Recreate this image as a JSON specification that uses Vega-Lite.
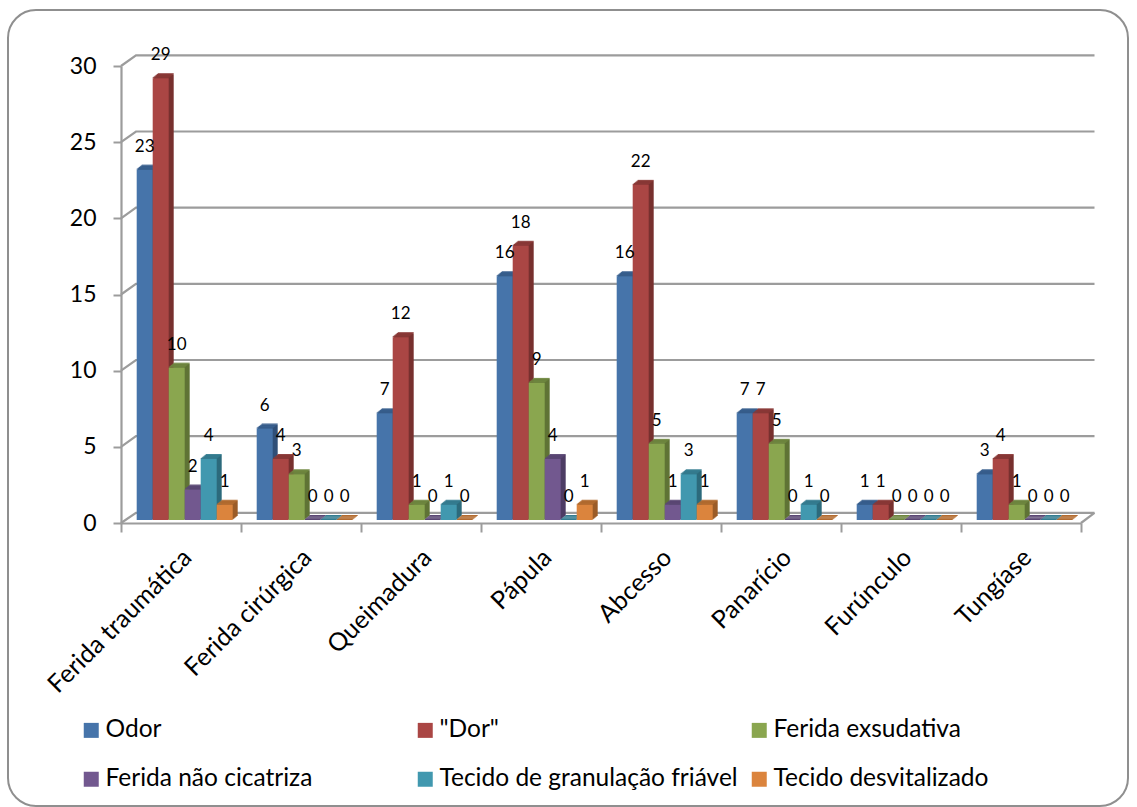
{
  "$schema": "https://vega.github.io/schema/vega-lite/v6.json",
  "width": 1120,
  "height": 796,
  "padding": {"left": 8, "top": 10, "right": 9, "bottom": 1},
  "autosize": {"type": "none"},
  "background": "white",
  "view": {"stroke": "#8f8f8f", "strokeWidth": 2, "cornerRadius": 28, "fill": "white"},
  "config": {"font": "Lato"},
  "datasets": {
    "casos": [
      {"lesao": "Ferida traumática", "serie": "Odor", "n": 23},
      {"lesao": "Ferida traumática", "serie": "\"Dor\"", "n": 29},
      {"lesao": "Ferida traumática", "serie": "Ferida exsudativa", "n": 10},
      {"lesao": "Ferida traumática", "serie": "Ferida não cicatriza", "n": 2},
      {"lesao": "Ferida traumática", "serie": "Tecido de granulação friável", "n": 4},
      {"lesao": "Ferida traumática", "serie": "Tecido desvitalizado", "n": 1},
      {"lesao": "Ferida cirúrgica", "serie": "Odor", "n": 6},
      {"lesao": "Ferida cirúrgica", "serie": "\"Dor\"", "n": 4},
      {"lesao": "Ferida cirúrgica", "serie": "Ferida exsudativa", "n": 3},
      {"lesao": "Ferida cirúrgica", "serie": "Ferida não cicatriza", "n": 0},
      {"lesao": "Ferida cirúrgica", "serie": "Tecido de granulação friável", "n": 0},
      {"lesao": "Ferida cirúrgica", "serie": "Tecido desvitalizado", "n": 0},
      {"lesao": "Queimadura", "serie": "Odor", "n": 7},
      {"lesao": "Queimadura", "serie": "\"Dor\"", "n": 12},
      {"lesao": "Queimadura", "serie": "Ferida exsudativa", "n": 1},
      {"lesao": "Queimadura", "serie": "Ferida não cicatriza", "n": 0},
      {"lesao": "Queimadura", "serie": "Tecido de granulação friável", "n": 1},
      {"lesao": "Queimadura", "serie": "Tecido desvitalizado", "n": 0},
      {"lesao": "Pápula", "serie": "Odor", "n": 16},
      {"lesao": "Pápula", "serie": "\"Dor\"", "n": 18},
      {"lesao": "Pápula", "serie": "Ferida exsudativa", "n": 9},
      {"lesao": "Pápula", "serie": "Ferida não cicatriza", "n": 4},
      {"lesao": "Pápula", "serie": "Tecido de granulação friável", "n": 0},
      {"lesao": "Pápula", "serie": "Tecido desvitalizado", "n": 1},
      {"lesao": "Abcesso", "serie": "Odor", "n": 16},
      {"lesao": "Abcesso", "serie": "\"Dor\"", "n": 22},
      {"lesao": "Abcesso", "serie": "Ferida exsudativa", "n": 5},
      {"lesao": "Abcesso", "serie": "Ferida não cicatriza", "n": 1},
      {"lesao": "Abcesso", "serie": "Tecido de granulação friável", "n": 3},
      {"lesao": "Abcesso", "serie": "Tecido desvitalizado", "n": 1},
      {"lesao": "Panarício", "serie": "Odor", "n": 7},
      {"lesao": "Panarício", "serie": "\"Dor\"", "n": 7},
      {"lesao": "Panarício", "serie": "Ferida exsudativa", "n": 5},
      {"lesao": "Panarício", "serie": "Ferida não cicatriza", "n": 0},
      {"lesao": "Panarício", "serie": "Tecido de granulação friável", "n": 1},
      {"lesao": "Panarício", "serie": "Tecido desvitalizado", "n": 0},
      {"lesao": "Furúnculo", "serie": "Odor", "n": 1},
      {"lesao": "Furúnculo", "serie": "\"Dor\"", "n": 1},
      {"lesao": "Furúnculo", "serie": "Ferida exsudativa", "n": 0},
      {"lesao": "Furúnculo", "serie": "Ferida não cicatriza", "n": 0},
      {"lesao": "Furúnculo", "serie": "Tecido de granulação friável", "n": 0},
      {"lesao": "Furúnculo", "serie": "Tecido desvitalizado", "n": 0},
      {"lesao": "Tungíase", "serie": "Odor", "n": 3},
      {"lesao": "Tungíase", "serie": "\"Dor\"", "n": 4},
      {"lesao": "Tungíase", "serie": "Ferida exsudativa", "n": 1},
      {"lesao": "Tungíase", "serie": "Ferida não cicatriza", "n": 0},
      {"lesao": "Tungíase", "serie": "Tecido de granulação friável", "n": 0},
      {"lesao": "Tungíase", "serie": "Tecido desvitalizado", "n": 0}
    ],
    "parede": [
      {"linha": 0, "prof": 0, "nivel": 0}, {"linha": 0, "prof": 1, "nivel": 0.67}, {"linha": 0, "prof": 64.9, "nivel": 0.67},
      {"linha": 5, "prof": 0, "nivel": 5}, {"linha": 5, "prof": 1, "nivel": 5.7}, {"linha": 5, "prof": 64.9, "nivel": 5.7},
      {"linha": 10, "prof": 0, "nivel": 10}, {"linha": 10, "prof": 1, "nivel": 10.7}, {"linha": 10, "prof": 64.9, "nivel": 10.7},
      {"linha": 15, "prof": 0, "nivel": 15}, {"linha": 15, "prof": 1, "nivel": 15.7}, {"linha": 15, "prof": 64.9, "nivel": 15.7},
      {"linha": 20, "prof": 0, "nivel": 20}, {"linha": 20, "prof": 1, "nivel": 20.7}, {"linha": 20, "prof": 64.9, "nivel": 20.7},
      {"linha": 25, "prof": 0, "nivel": 25}, {"linha": 25, "prof": 1, "nivel": 25.7}, {"linha": 25, "prof": 64.9, "nivel": 25.7},
      {"linha": 30, "prof": 0, "nivel": 30}, {"linha": 30, "prof": 1, "nivel": 30.7}, {"linha": 30, "prof": 64.9, "nivel": 30.7},
      {"linha": -1, "prof": 64, "nivel": 0}, {"linha": -1, "prof": 64.9, "nivel": 0.67}
    ]
  },
  "resolve": {"scale": {"x": "independent"}, "axis": {"x": "independent", "y": "independent"}},
  "layer": [
    {
      "data": {"name": "parede"},
      "mark": {"type": "line", "stroke": "#9c9c9c", "strokeWidth": 2.2},
      "encoding": {
        "x": {"field": "prof", "type": "quantitative", "axis": null, "scale": {"domain": [0, 65], "range": [113, 1088], "nice": false, "zero": false}},
        "y": {
          "field": "nivel", "type": "quantitative",
          "scale": {"domain": [0, 30], "range": [513, 56], "nice": false},
          "axis": {
            "title": null, "offset": -113, "values": [0, 5, 10, 15, 20, 25, 30], "grid": false,
            "labelFontSize": 23, "labelFont": "Lato", "labelColor": "#000000", "labelPadding": 17,
            "domainColor": "#9c9c9c", "domainWidth": 2.2, "tickColor": "#9c9c9c", "tickWidth": 2, "tickSize": 8
          }
        },
        "detail": {"field": "linha"},
        "order": {"field": "prof"}
      }
    },
    {
      "data": {"name": "casos"},
      "encoding": {
        "x": {
          "field": "lesao", "type": "nominal", "sort": null,
          "scale": {"range": [113, 1073], "paddingInner": 0, "paddingOuter": 0},
          "axis": {
            "title": null, "offset": -283, "labelAngle": -45, "labelAlign": "right", "labelBaseline": "middle",
            "labelFontSize": 25, "labelFont": "Lato", "labelColor": "#000000", "labelPadding": 21, "labelOffset": 6, "labelLimit": 300,
            "domainColor": "#9c9c9c", "domainWidth": 2.2, "tickColor": "#9c9c9c", "tickWidth": 2, "tickSize": 9, "tickBand": "extent", "grid": false
          }
        },
        "y": {"field": "n", "type": "quantitative", "axis": null}
      },
      "resolve": {"scale": {"color": "independent", "xOffset": "independent"}},
      "layer": [
        {
          "encoding": {
            "color": {
              "field": "serie", "type": "nominal", "legend": null,
              "scale": {
                "domain": ["Odor", "\"Dor\"", "Ferida exsudativa", "Ferida não cicatriza", "Tecido de granulação friável", "Tecido desvitalizado"],
                "range": ["#2f4f78", "#77302e", "#5f7335", "#4d3c64", "#2c6a7c", "#9b5c28"]
              }
            }
          },
          "resolve": {"scale": {"xOffset": "independent"}},
          "layer": [
            {"mark": {"type": "bar", "yOffset": -3.8, "y2Offset": -3.8}, "encoding": {"xOffset": {"field": "serie", "type": "nominal", "sort": null, "scale": {"range": [4.7, 124.7], "paddingInner": 0, "paddingOuter": 0.75}}}},
            {"mark": {"type": "bar", "yOffset": -4.6, "y2Offset": -4.6}, "encoding": {"xOffset": {"field": "serie", "type": "nominal", "sort": null, "scale": {"range": [5.7, 125.7], "paddingInner": 0, "paddingOuter": 0.75}}}},
            {"mark": {"type": "bar", "yOffset": -5.4, "y2Offset": -5.4}, "encoding": {"xOffset": {"field": "serie", "type": "nominal", "sort": null, "scale": {"range": [6.7, 126.7], "paddingInner": 0, "paddingOuter": 0.75}}}},
            {"mark": {"type": "bar", "yOffset": -6.2, "y2Offset": -6.2}, "encoding": {"xOffset": {"field": "serie", "type": "nominal", "sort": null, "scale": {"range": [7.7, 127.7], "paddingInner": 0, "paddingOuter": 0.75}}}},
            {"mark": {"type": "bar", "yOffset": -7, "y2Offset": -7}, "encoding": {"xOffset": {"field": "serie", "type": "nominal", "sort": null, "scale": {"range": [8.7, 128.7], "paddingInner": 0, "paddingOuter": 0.75}}}}
          ]
        },
        {
          "encoding": {
            "y2": {"field": "n"},
            "color": {
              "field": "serie", "type": "nominal", "legend": null,
              "scale": {
                "domain": ["Odor", "\"Dor\"", "Ferida exsudativa", "Ferida não cicatriza", "Tecido de granulação friável", "Tecido desvitalizado"],
                "range": ["#385f8e", "#8a3937", "#6f8740", "#5b4875", "#357d91", "#b36c30"]
              }
            }
          },
          "resolve": {"scale": {"xOffset": "independent"}},
          "layer": [
            {"mark": {"type": "bar", "yOffset": -4, "y2Offset": -3}, "encoding": {"xOffset": {"field": "serie", "type": "nominal", "sort": null, "scale": {"range": [3.7, 123.7], "paddingInner": 0, "paddingOuter": 0.75}}}},
            {"mark": {"type": "bar", "yOffset": -4.8, "y2Offset": -3.8}, "encoding": {"xOffset": {"field": "serie", "type": "nominal", "sort": null, "scale": {"range": [4.7, 124.7], "paddingInner": 0, "paddingOuter": 0.75}}}},
            {"mark": {"type": "bar", "yOffset": -5.6, "y2Offset": -4.6}, "encoding": {"xOffset": {"field": "serie", "type": "nominal", "sort": null, "scale": {"range": [5.7, 125.7], "paddingInner": 0, "paddingOuter": 0.75}}}},
            {"mark": {"type": "bar", "yOffset": -6.4, "y2Offset": -5.4}, "encoding": {"xOffset": {"field": "serie", "type": "nominal", "sort": null, "scale": {"range": [6.7, 126.7], "paddingInner": 0, "paddingOuter": 0.75}}}},
            {"mark": {"type": "bar", "yOffset": -7.2, "y2Offset": -6.2}, "encoding": {"xOffset": {"field": "serie", "type": "nominal", "sort": null, "scale": {"range": [7.7, 127.7], "paddingInner": 0, "paddingOuter": 0.75}}}},
            {"mark": {"type": "bar", "yOffset": -8, "y2Offset": -7}, "encoding": {"xOffset": {"field": "serie", "type": "nominal", "sort": null, "scale": {"range": [8.7, 128.7], "paddingInner": 0, "paddingOuter": 0.75}}}}
          ]
        },
        {
          "mark": {"type": "bar", "yOffset": -3, "y2Offset": -3},
          "encoding": {
            "xOffset": {"field": "serie", "type": "nominal", "sort": null, "scale": {"range": [3.7, 123.7], "paddingInner": 0, "paddingOuter": 0.75}},
            "color": {
              "field": "serie", "type": "nominal",
              "scale": {
                "domain": ["Odor", "\"Dor\"", "Ferida exsudativa", "Ferida não cicatriza", "Tecido de granulação friável", "Tecido desvitalizado"],
                "range": ["#4674aa", "#aa4644", "#8aa64f", "#72588f", "#4198af", "#db843d"]
              },
              "legend": {
                "title": null, "orient": "none", "direction": "horizontal", "legendX": 71, "legendY": 708, "columns": 3, "gridAlign": "all",
                "symbolType": "square", "symbolSize": 225, "symbolStrokeWidth": 0, "symbolOpacity": 1,
                "labelFont": "Lato", "labelFontSize": 24.5, "labelColor": "#000000", "labelOffset": 2, "labelLimit": 400,
                "rowPadding": 24, "columnPadding": 9
              }
            }
          }
        },
        {
          "mark": {"type": "text", "font": "Lato", "fontSize": 17, "color": "#000000", "dy": -26, "baseline": "middle"},
          "encoding": {
            "xOffset": {"field": "serie", "type": "nominal", "sort": null, "scale": {"range": [23.7, 103.7], "padding": 0}},
            "text": {"field": "n", "type": "quantitative"}
          }
        }
      ]
    }
  ]
}
